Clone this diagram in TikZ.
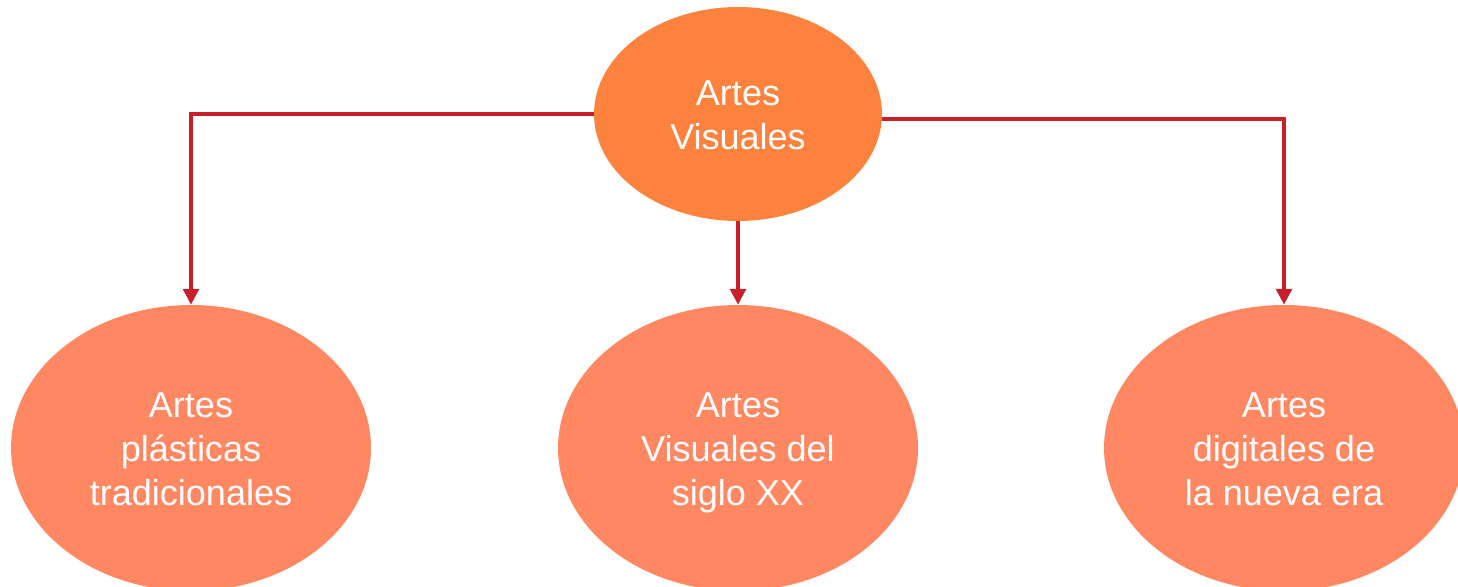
\documentclass[tikz,border=0pt]{standalone}
\usepackage{fontspec}
\setmainfont{Liberation Sans}
\usepackage{tikz}
\usetikzlibrary{shapes.geometric,arrows.meta}

\definecolor{topfill}{HTML}{FC823E}
\definecolor{subfill}{HTML}{FF8862}
\definecolor{linkred}{HTML}{C8202A}

\newcommand{\topstrut}{\rule{0pt}{23pt}}

\begin{document}
\begin{tikzpicture}[x=0.02cm, y=-0.02cm,
    blob/.style = {ellipse, inner sep=0pt, text=white, align=center,
        font=\fontsize{20.5}{25}\selectfont},
    link/.style = {draw=linkred, line width=1.8pt,
        -{Triangle[length=9pt, width=9pt]}}]

\useasboundingbox (0,0) rectangle (1458,587);
\clip (0,0) rectangle (1458,587);

% Root
\node [blob, fill=topfill, minimum width=5.76cm, minimum height=4.28cm]
    (root) at (738,114) {\topstrut Artes\\Visuales\strut};

% Branches
\node [blob, fill=subfill, minimum width=7.2cm, minimum height=5.72cm]
    (plast) at (191,448) {\topstrut Artes\\pl\'asticas\\tradicionales\strut};
\node [blob, fill=subfill, minimum width=7.2cm, minimum height=5.72cm]
    (siglo) at (738,448) {\topstrut Artes\\Visuales del\\siglo XX\strut};
\node [blob, fill=subfill, minimum width=7.2cm, minimum height=5.72cm]
    (digit) at (1284,448) {\topstrut Artes\\digitales de\\la nueva era\strut};

% Connectors
\draw [link] (root.west) -| (plast.north);
\draw [link] (root.south) -- (siglo.north);
\draw [link] ([yshift=-5*0.02cm]root.east) -| (digit.north);

\end{tikzpicture}
\end{document}
